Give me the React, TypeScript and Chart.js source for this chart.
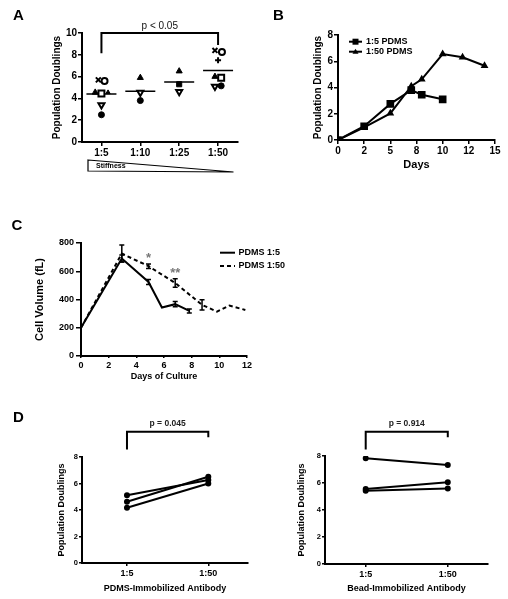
import React, { useEffect, useRef } from 'react';
import { Chart, registerables } from 'chart.js';

Chart.register(...registerables);

// ---------------- Data ----------------
// Panel A: population doublings per PDMS ratio (one symbol per donor)
const aGroups = ['1:5', '1:10', '1:25', '1:50'];
const aMeans = [4.4, 4.65, 5.5, 6.55];
const aCross = [5.7, null, null, 8.4];
const aOpenCircle = [5.6, null, null, 8.25];
const aTriangle = [4.55, 5.9, 6.5, 6.0];
const aOpenSquare = [4.45, null, null, 5.9];
const aSmallTriangle = [4.55, null, null, null];
const aOpenInvTriangle = [3.4, 4.55, 4.6, 5.1];
const aFilledCircle = [2.5, 3.8, null, 5.15];
const aFilledSquare = [null, null, 5.3, null];
const aPlus = [null, null, null, 7.5];
// horizontal scatter (in category units) so symbols do not overlap
const aCrossJit = [-0.08, 0, 0, -0.08];
const aOpenCircleJit = [0.08, 0, 0, 0.1];
const aTriangleJit = [-0.16, 0, 0, -0.08];
const aOpenSquareJit = [0, 0, 0, 0.08];
const aSmallTriangleJit = [0.17, 0, 0, 0];
const aOpenInvTriangleJit = [0, 0, 0, -0.08];
const aFilledCircleJit = [0, 0, 0, 0.08];
const aZeroJit = [0, 0, 0, 0];

// Panel B: growth curves
const bDays15 = [0, 2.5, 5, 7, 8, 10];
const bPD15 = [0, 1.05, 2.75, 3.8, 3.45, 3.1];
const bDays50 = [0, 2.5, 5, 7, 8, 10, 11.9, 14];
const bPD50 = [0, 0.97, 2.03, 4.1, 4.62, 6.55, 6.3, 5.66];
const bTickLabels = ['0', '2', '5', '8', '10', '12', '15'];
const bSeries = ['1:5 PDMS', '1:50 PDMS'];

// Panel C: cell volume
const cDays15 = [0, 2.95, 4.88, 5.85, 6.81, 7.83];
const cVol15 = [200, 690, 524, 343, 367, 319];
const cErr15 = [0, 25, 18, 0, 19, 14];
const cDays50 = [0, 2.95, 4.88, 6.81, 8.75, 9.83, 10.72, 11.88];
const cVol50 = [200, 725, 636, 517, 362, 314, 357, 326];
const cErr50 = [0, 60, 16, 30, 36, 0, 0, 0];
const cSeries = ['PDMS 1:5', 'PDMS 1:50'];

// Panel D: paired donors
const dCats = ['1:5', '1:50'];
const dLeft15 = [5.12, 4.62, 4.17];
const dLeft50 = [6.26, 6.51, 6.0];
const dRight15 = [7.83, 5.55, 5.43];
const dRight50 = [7.33, 6.05, 5.6];

// ---------------- Helpers ----------------
const LS = '"Liberation Sans", Arial, sans-serif';
const fnt = (size: number, weight: string = 'bold') => ({ family: LS, size, weight });
const cfont = (size: number, weight: string = 'bold') => `${weight} ${size}px ${LS}`;

const grid = (tickLength: number) => ({
  display: true,
  drawOnChartArea: false,
  drawTicks: tickLength > 0,
  tickLength,
  color: '#000',
  lineWidth: 1.5,
});
const border = { display: true, color: '#000', width: 2 };

function baseOptions(padding: any) {
  return {
    responsive: false,
    maintainAspectRatio: false,
    animation: false,
    events: [],
    layout: { padding },
    plugins: { legend: { display: false }, tooltip: { enabled: false } },
  };
}

function yAxis(o: any) {
  return {
    type: 'linear',
    position: 'left',
    min: o.min,
    max: o.max,
    ticks: { stepSize: o.step, font: o.tickFont, color: '#000', padding: o.tickPad },
    grid: grid(o.tickLen),
    border,
    title: { display: true, text: o.title, font: o.titleFont, color: '#000', padding: 0 },
    afterFit: (s: any) => {
      s.width = o.width;
    },
  };
}

function ChartCanvas({ left, top, width, height, make }: any) {
  const ref = useRef<HTMLCanvasElement>(null);
  useEffect(() => {
    const chart = new Chart(ref.current as HTMLCanvasElement, make());
    return () => chart.destroy();
  }, []);
  return (
    <canvas
      ref={ref}
      width={width}
      height={height}
      style={{ position: 'absolute', left, top, width, height, display: 'block' }}
    />
  );
}

function text(ctx: any, s: string, x: number, y: number, font: string, align = 'left', base = 'alphabetic', color = '#000') {
  ctx.save();
  ctx.font = font;
  ctx.fillStyle = color;
  ctx.textAlign = align;
  ctx.textBaseline = base;
  ctx.fillText(s, x, y);
  ctx.restore();
}

// ---------------- Panel A ----------------
function makeA() {
  const sym = (values: any[], jit: number[], style: any) => ({
    data: values
      .map((v, i) => (v == null ? null : { x: i + jit[i], y: v }))
      .filter((p) => p !== null),
    pointStyle: style.shape,
    pointRadius: style.r,
    pointRotation: style.rot || 0,
    pointBackgroundColor: style.fill,
    pointBorderColor: '#000',
    pointBorderWidth: style.bw,
  });
  const datasets = [
    sym(aCross, aCrossJit, { shape: 'crossRot', r: 3.5, fill: '#000', bw: 2 }),
    sym(aOpenCircle, aOpenCircleJit, { shape: 'circle', r: 3, fill: '#fff', bw: 2 }),
    sym(aTriangle, aTriangleJit, { shape: 'triangle', r: 3.5, fill: '#000', bw: 1 }),
    sym(aOpenSquare, aOpenSquareJit, { shape: 'rect', r: 4.2, fill: '#fff', bw: 2 }),
    sym(aSmallTriangle, aSmallTriangleJit, { shape: 'triangle', r: 2.5, fill: '#000', bw: 1 }),
    sym(aOpenInvTriangle, aOpenInvTriangleJit, { shape: 'triangle', rot: 180, r: 3.5, fill: '#fff', bw: 2 }),
    sym(aFilledCircle, aFilledCircleJit, { shape: 'circle', r: 3, fill: '#000', bw: 1 }),
    sym(aFilledSquare, aZeroJit, { shape: 'rect', r: 3.6, fill: '#000', bw: 1 }),
    sym(aPlus, aZeroJit, { shape: 'cross', r: 3, fill: '#000', bw: 2 }),
    {
      data: aMeans.map((m, i) => ({ x: i, y: m })),
      pointStyle: 'line',
      pointRadius: 15,
      pointBorderColor: '#000',
      pointBorderWidth: 1.5,
    },
  ];
  const extras = {
    id: 'extrasA',
    afterDraw(chart: any) {
      const { ctx } = chart;
      const xs = chart.scales.x;
      const ys = chart.scales.y;
      text(ctx, 'A', 13, 20, cfont(15));
      // significance bracket 1:5 vs 1:50
      const x1 = xs.getPixelForValue(0);
      const x2 = xs.getPixelForValue(3);
      const yt = ys.getPixelForValue(10);
      ctx.save();
      ctx.strokeStyle = '#000';
      ctx.lineWidth = 2;
      ctx.beginPath();
      ctx.moveTo(x1, ys.getPixelForValue(8.15));
      ctx.lineTo(x1, yt);
      ctx.lineTo(x2, yt);
      ctx.lineTo(x2, ys.getPixelForValue(8.9));
      ctx.stroke();
      ctx.restore();
      text(ctx, 'p < 0.05', (x1 + x2) / 2, yt - 2, cfont(10, 'normal'), 'center', 'bottom', '#111');
      // stiffness wedge
      const ca = chart.chartArea;
      const l = ca.left + 6;
      const r = ca.right - 4;
      const b = ca.bottom + 29;
      ctx.save();
      ctx.strokeStyle = '#000';
      ctx.lineWidth = 1.2;
      ctx.beginPath();
      ctx.moveTo(l, b - 11);
      ctx.lineTo(r, b + 1);
      ctx.lineTo(l, b);
      ctx.closePath();
      ctx.stroke();
      ctx.restore();
      text(ctx, 'Stiffness', l + 8, b - 3, cfont(7), 'left', 'alphabetic');
    },
  };
  return {
    type: 'scatter',
    data: { datasets },
    options: {
      ...baseOptions({ left: 51, top: 33, right: 12, bottom: 28 }),
      scales: {
        x: {
          type: 'linear',
          min: -0.5,
          max: 3.5,
          afterBuildTicks: (s: any) => {
            s.ticks = aGroups.map((_, i) => ({ value: i }));
          },
          ticks: { callback: (v: any) => aGroups[Math.round(v)], font: fnt(10), color: '#000', padding: 1, maxRotation: 0 },
          grid: grid(4),
          border,
          afterFit: (s: any) => {
            s.height = 30;
          },
        },
        y: yAxis({ min: 0, max: 10, step: 2, tickFont: fnt(10), tickPad: 1, tickLen: 4, title: 'Population Doublings', titleFont: fnt(10), width: 31 }),
      },
    },
    plugins: [extras],
  };
}

// ---------------- Panel B ----------------
function makeB() {
  const extras = {
    id: 'extrasB',
    afterDraw(chart: any) {
      const { ctx } = chart;
      text(ctx, 'B', 19, 19.5, cfont(15));
      const rows = [
        { y: 41.7, shape: 'rect', label: bSeries[0] },
        { y: 51.7, shape: 'triangle', label: bSeries[1] },
      ];
      rows.forEach((row) => {
        ctx.save();
        ctx.strokeStyle = '#000';
        ctx.lineWidth = 2;
        ctx.beginPath();
        ctx.moveTo(95, row.y);
        ctx.lineTo(108, row.y);
        ctx.stroke();
        ctx.fillStyle = '#000';
        ctx.beginPath();
        if (row.shape === 'rect') {
          ctx.rect(98.5, row.y - 3, 6, 6);
        } else {
          ctx.moveTo(101.5, row.y - 3);
          ctx.lineTo(104.5, row.y + 2);
          ctx.lineTo(98.5, row.y + 2);
          ctx.closePath();
        }
        ctx.fill();
        ctx.restore();
        text(ctx, row.label, 112, row.y, cfont(9), 'left', 'middle');
      });
    },
  };
  return {
    type: 'line',
    data: {
      datasets: [
        {
          label: bSeries[0],
          data: bDays15.map((d, i) => ({ x: d, y: bPD15[i] })),
          borderColor: '#000',
          borderWidth: 2,
          pointStyle: 'rect',
          pointRadius: 4,
          pointBackgroundColor: '#000',
          pointBorderColor: '#000',
          tension: 0,
        },
        {
          label: bSeries[1],
          data: bDays50.map((d, i) => ({ x: d, y: bPD50[i] })),
          borderColor: '#000',
          borderWidth: 2,
          pointStyle: 'triangle',
          pointRadius: 2.5,
          pointBackgroundColor: '#000',
          pointBorderColor: '#000',
          tension: 0,
        },
      ],
    },
    options: {
      ...baseOptions({ left: 58, top: 35, right: 13, bottom: 28 }),
      scales: {
        x: {
          type: 'linear',
          min: 0,
          max: 15,
          ticks: {
            stepSize: 2.5,
            callback: (_v: any, i: number) => bTickLabels[i],
            font: fnt(10),
            color: '#000',
            padding: 1,
            maxRotation: 0,
          },
          grid: grid(4),
          border,
          title: { display: true, text: 'Days', font: fnt(11), color: '#000', padding: 0 },
          afterFit: (s: any) => {
            s.height = 32;
          },
        },
        y: yAxis({ min: 0, max: 8, step: 2, tickFont: fnt(10), tickPad: 1, tickLen: 4, title: 'Population Doublings', titleFont: fnt(10), width: 26 }),
      },
    },
    plugins: [extras],
  };
}

// ---------------- Panel C ----------------
function makeC() {
  const extras = {
    id: 'extrasC',
    afterDatasetsDraw(chart: any) {
      const { ctx } = chart;
      const xs = chart.scales.x;
      const ys = chart.scales.y;
      const bars = (days: number[], vals: number[], errs: number[]) => {
        days.forEach((d, i) => {
          if (!errs[i]) return;
          const px = xs.getPixelForValue(d);
          const y1 = ys.getPixelForValue(vals[i] - errs[i]);
          const y2 = ys.getPixelForValue(vals[i] + errs[i]);
          ctx.save();
          ctx.strokeStyle = '#000';
          ctx.lineWidth = 1.5;
          ctx.beginPath();
          ctx.moveTo(px, y1);
          ctx.lineTo(px, y2);
          ctx.moveTo(px - 2.5, y1);
          ctx.lineTo(px + 2.5, y1);
          ctx.moveTo(px - 2.5, y2);
          ctx.lineTo(px + 2.5, y2);
          ctx.stroke();
          ctx.restore();
        });
      };
      bars(cDays15, cVol15, cErr15);
      bars(cDays50, cVol50, cErr50);
      // significance stars (alphabetic baseline; glyph sits ~7px above it)
      text(ctx, '*', xs.getPixelForValue(4.88), ys.getPixelForValue(724) + 8, cfont(13), 'center', 'alphabetic', '#777');
      text(ctx, '**', xs.getPixelForValue(6.81), ys.getPixelForValue(617) + 8, cfont(13), 'center', 'alphabetic', '#777');
    },
    afterDraw(chart: any) {
      const { ctx } = chart;
      text(ctx, 'C', 11.5, 30, cfont(15));
      const rows = [
        { y: 52.7, dash: [], label: cSeries[0] },
        { y: 66, dash: [4, 3], label: cSeries[1] },
      ];
      rows.forEach((row) => {
        ctx.save();
        ctx.strokeStyle = '#000';
        ctx.lineWidth = 2;
        ctx.setLineDash(row.dash);
        ctx.beginPath();
        ctx.moveTo(220, row.y);
        ctx.lineTo(235, row.y);
        ctx.stroke();
        ctx.restore();
        text(ctx, row.label, 238.5, row.y, cfont(9), 'left', 'middle');
      });
    },
  };
  return {
    type: 'line',
    data: {
      datasets: [
        {
          label: cSeries[0],
          data: cDays15.map((d, i) => ({ x: d, y: cVol15[i] })),
          borderColor: '#000',
          borderWidth: 2,
          pointRadius: 0,
          tension: 0,
        },
        {
          label: cSeries[1],
          data: cDays50.map((d, i) => ({ x: d, y: cVol50[i] })),
          borderColor: '#000',
          borderWidth: 2,
          borderDash: [4, 3],
          pointRadius: 0,
          tension: 0,
        },
      ],
    },
    options: {
      ...baseOptions({ left: 33, top: 43, right: 53, bottom: 3 }),
      scales: {
        x: {
          type: 'linear',
          min: 0,
          max: 12,
          ticks: { stepSize: 2, font: fnt(9), color: '#000', padding: 2, maxRotation: 0 },
          grid: grid(2),
          border,
          title: { display: true, text: 'Days of Culture', font: fnt(9), color: '#000', padding: 0 },
          afterFit: (s: any) => {
            s.height = 26;
          },
        },
        y: yAxis({ min: 0, max: 800, step: 200, tickFont: fnt(9), tickPad: 2, tickLen: 5, title: 'Cell Volume (fL)', titleFont: fnt(11), width: 48 }),
      },
    },
    plugins: [extras],
  };
}

// ---------------- Panel D ----------------
function makeD(v15: number[], v50: number[], xTitle: string, pText: string, opts: any) {
  const datasets = v15.map((v, i) => ({
    data: [
      { x: 1, y: v },
      { x: 2, y: v50[i] },
    ],
    borderColor: '#000',
    borderWidth: 2,
    pointStyle: 'circle',
    pointRadius: 2,
    pointBackgroundColor: '#000',
    pointBorderColor: '#000',
    tension: 0,
  }));
  const extras = {
    id: 'extrasD',
    afterDraw(chart: any) {
      const { ctx } = chart;
      const xs = chart.scales.x;
      if (opts.letter) text(ctx, 'D', 13, 36.7, cfont(15));
      const x1 = xs.getPixelForValue(1);
      const x2 = xs.getPixelForValue(2);
      ctx.save();
      ctx.strokeStyle = '#000';
      ctx.lineWidth = 2;
      ctx.beginPath();
      ctx.moveTo(x1, 64.5);
      ctx.lineTo(x1, 46.7);
      ctx.lineTo(x2, 46.7);
      ctx.lineTo(x2, 52.3);
      ctx.stroke();
      ctx.restore();
      text(ctx, pText, (x1 + x2) / 2, 43, cfont(8.5), 'center', 'bottom', '#222');
    },
  };
  return {
    type: 'line',
    data: { datasets },
    options: {
      ...baseOptions({ left: opts.padLeft, top: opts.padTop, right: opts.padRight, bottom: opts.padBottom }),
      scales: {
        x: {
          type: 'linear',
          min: opts.xMin,
          max: opts.xMax,
          afterBuildTicks: (s: any) => {
            s.ticks = [{ value: 1 }, { value: 2 }];
          },
          ticks: { callback: (v: any) => dCats[Math.round(v) - 1], font: fnt(9), color: '#000', padding: 2, maxRotation: 0 },
          grid: grid(3),
          border,
          title: { display: true, text: xTitle, font: fnt(9), color: '#000', padding: 0 },
          afterFit: (s: any) => {
            s.height = opts.xHeight;
          },
        },
        y: yAxis({ min: 0, max: 8, step: 2, tickFont: fnt(7.5), tickPad: 1, tickLen: 3, title: 'Population Doublings', titleFont: fnt(9), width: opts.yWidth }),
      },
    },
    plugins: [extras],
  };
}

export default function App() {
  return (
    <div style={{ position: 'absolute', left: 0, top: 0, width: 508, height: 599, background: '#fff' }}>
      <ChartCanvas left={0} top={0} width={254} height={200} make={makeA} />
      <ChartCanvas left={254} top={0} width={254} height={200} make={makeB} />
      <ChartCanvas left={0} top={200} width={300} height={185} make={makeC} />
      <ChartCanvas
        left={0}
        top={385}
        width={254}
        height={214}
        make={() =>
          makeD(dLeft15, dLeft50, 'PDMS-Immobilized Antibody', 'p = 0.045', {
            letter: true,
            padLeft: 56.6,
            padTop: 72,
            padRight: 6,
            padBottom: 5.3,
            xHeight: 30.7,
            yWidth: 25.4,
            xMin: 0.447,
            xMax: 2.488,
          })
        }
      />
      <ChartCanvas
        left={254}
        top={385}
        width={254}
        height={214}
        make={() =>
          makeD(dRight15, dRight50, 'Bead-Immobilized Antibody', 'p = 0.914', {
            letter: false,
            padLeft: 42.6,
            padTop: 71,
            padRight: 20,
            padBottom: 5,
            xHeight: 30,
            yWidth: 28.4,
            xMin: 0.504,
            xMax: 2.49,
          })
        }
      />
    </div>
  );
}
